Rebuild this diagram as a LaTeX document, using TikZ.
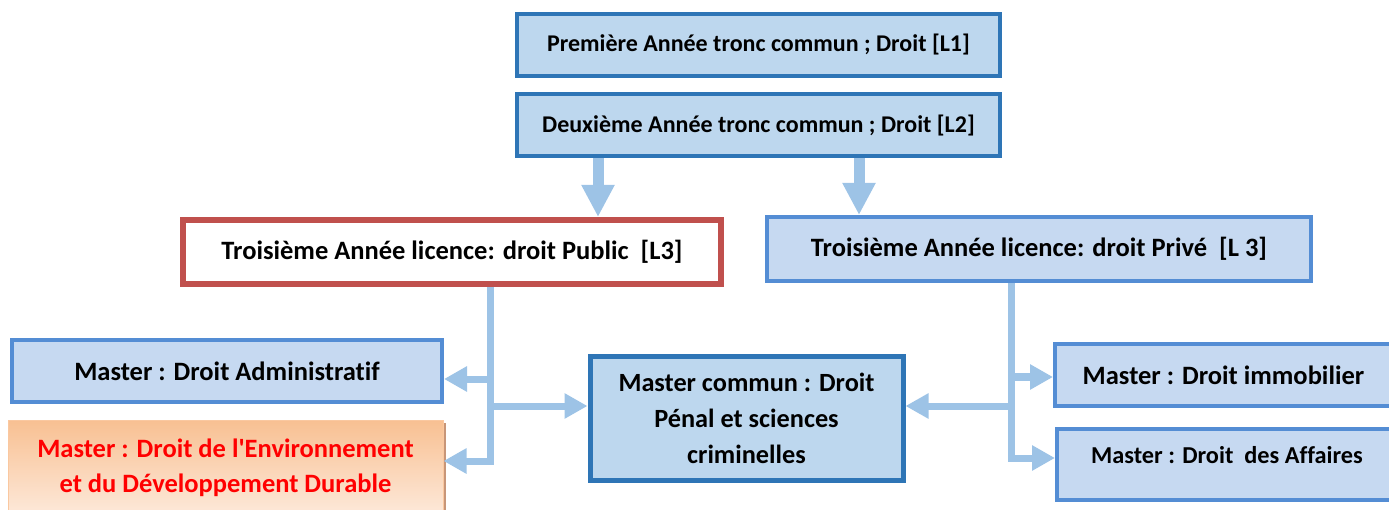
\documentclass[tikz,border=0pt]{standalone}
\usepackage{fontspec}
\setmainfont{Carlito}[Ligatures = NoCommon]
\usetikzlibrary{arrows.meta}
\definecolor{rimdark}{RGB}{46,117,182}
\definecolor{rimmid}{RGB}{84,141,212}
\definecolor{rimred}{RGB}{192,80,77}
\definecolor{filldark}{RGB}{189,215,238}
\definecolor{fillmid}{RGB}{198,217,241}
\definecolor{linkblue}{RGB}{157,195,230}
\definecolor{envtop}{RGB}{248,192,146}
\definecolor{envbot}{RGB}{253,233,218}
\definecolor{envrim}{RGB}{250,200,160}
\definecolor{envshade}{RGB}{200,150,120}
\begin{document}
\begin{tikzpicture}[
	x = 1pt,
	y = -1pt,
	yearbox/.style = {
		draw = rimdark,
		fill = filldark,
		line width = 4pt,
		inner sep = 0,
		minimum width = 483pt,
		minimum height = 62pt,
		font = \fontsize{24}{28}\selectfont\bfseries
	},
	licbox/.style = {
		draw = rimmid,
		fill = fillmid,
		line width = 4pt,
		inner sep = 0,
		font = \fontsize{26.5}{30}\selectfont\bfseries
	},
	masterbox/.style = {
		draw = rimmid,
		fill = fillmid,
		line width = 4pt,
		inner sep = 0,
		align = center,
		font = \fontsize{26.5}{35}\selectfont\bfseries
	},
	downlink/.style = {
		draw = linkblue,
		line width = 11pt,
		-{Triangle[width = 31pt, length = 32pt]}
	},
	sidelink/.style = {
		draw = linkblue,
		line width = 7pt,
		line join = miter,
		-{Triangle[width = 24pt, length = 23pt]}
	}
]
	\useasboundingbox (0, 0) rectangle (1389, 510);

	\coordinate (pubdrop) at (598, 0);
	\coordinate (privdrop) at (859, 0);
	\coordinate (pubtrunk) at (490, 0);
	\coordinate (privtrunk) at (1011, 0);
	\coordinate (yadm) at (0, 379);
	\coordinate (ycom) at (0, 406);
	\coordinate (yenv) at (0, 461);
	\coordinate (yimm) at (0, 377);
	\coordinate (yaff) at (0, 458);

	\node [yearbox] (L1) at (758.5, 45) {Première Année tronc commun ; Droit [L1]};
	\node [yearbox] (L2) at (758.5, 125.5) {Deuxième Année tronc commun ; Droit [L2]};

	\node [licbox, draw = rimred, fill = white, line width = 6pt,
		minimum width = 538pt, minimum height = 64pt] (L3pub) at (452, 252)
		{Troisième Année licence: droit Public\hspace{0.45em}[L3]};
	\node [licbox, minimum width = 544pt, minimum height = 64pt] (L3priv) at (1039, 249)
		{Troisième Année licence: droit Privé\hspace{0.45em}[L 3]};

	\node [masterbox, minimum width = 430pt, minimum height = 62pt] (adm) at (227, 371)
		{Master : Droit Administratif};
	\fill [envshade] (11, 423) rectangle (446, 520);
	\node [masterbox, draw = envrim, line width = 1pt, top color = envtop, bottom color = envbot,
		minimum width = 435pt, minimum height = 95pt, text = red]
		(env) at (225.5, 467.5)
		{Master : Droit de l\textquotesingle Environnement\\et du Développement Durable};
	\node [masterbox, draw = rimdark, fill = filldark, line width = 5pt,
		minimum width = 313pt, minimum height = 123pt, font = \fontsize{26.3}{36}\selectfont\bfseries]
		(com) at (746.5, 418.5)
		{Master commun : Droit\\Pénal et sciences\\criminelles};
	\node [masterbox, minimum width = 337pt, minimum height = 62pt] (imm) at (1223.5, 375)
		{Master : Droit immobilier};
	\node [masterbox, minimum width = 335pt, minimum height = 71pt] (aff) at (1224.5, 464.5) {};
	\node [font = \fontsize{24.3}{28}\selectfont\bfseries] (afftext) at (1227, 455)
		{Master : Droit\ \ des Affaires};

	\draw [downlink] (L2.south -| pubdrop) -- (L3pub.north -| pubdrop);
	\draw [downlink] (L2.south -| privdrop) -- (L3priv.north -| privdrop);

	\draw [sidelink] (L3pub.south -| pubtrunk) -- (pubtrunk |- yenv) -- (env.east |- yenv);
	\draw [sidelink] (pubtrunk |- yadm) -- (adm.east |- yadm);
	\draw [sidelink] (pubtrunk |- ycom) -- (com.west |- ycom);

	\draw [sidelink] (L3priv.south -| privtrunk) -- (privtrunk |- yaff) -- (aff.west |- yaff);
	\draw [sidelink] (privtrunk |- yimm) -- (imm.west |- yimm);
	\draw [sidelink] (privtrunk |- ycom) -- (com.east |- ycom);
\end{tikzpicture}
\end{document}
